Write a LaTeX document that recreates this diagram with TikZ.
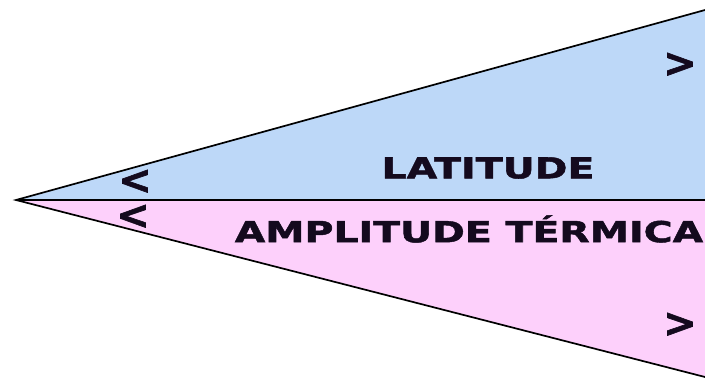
\documentclass[tikz,border=0pt]{standalone}
\usepackage{fontspec}
\setmainfont{DejaVu Sans}
\newfontfamily\heavy{DejaVu Sans}[BoldFeatures={FakeBold=1.5}]
\usetikzlibrary{positioning}
\definecolor{latblue}{HTML}{BDD8F8}
\definecolor{amppink}{HTML}{FDD0FB}
\definecolor{ink}{HTML}{140A1E}

\begin{document}
\begin{tikzpicture}[x=1pt,y=-1pt,
    edge/.style={black,line width=1.7pt},
    lbl/.style={ink,font=\fontsize{29}{29}\heavy\bfseries,inner sep=0pt},
    sgn/.style={ink,font=\fontsize{20}{20}\heavy\bfseries,inner sep=0pt,
      text height=23.5pt,text depth=0pt}]
  \useasboundingbox[fill=white] (0,0) rectangle (705,380);
  % wedge corners
  \coordinate (apex) at (16,200);
  \coordinate (top) at (705,10);
  \coordinate (mid) at (705,200);
  \coordinate (bot) at (705,377);
  % the two halves
  \fill[latblue] (apex) -- (top) -- (mid) -- cycle;
  \fill[amppink] (apex) -- (mid) -- (bot) -- cycle;
  \draw[edge] (top) -- (apex) -- (bot);
  \draw[edge] (apex) -- (mid);
  % labels
  \node[lbl] (lat) at (488,168) {\scalebox{1.36}[1]{LATITUDE}};
  \node[lbl] (amp) at (469,229) {\scalebox{1.36}[1]{AMPLITUDE TÉRMICA}};
  \node[sgn] (latlo) at (135,182) {\scalebox{2}{<}};
  \node[sgn] (amplo) at (133,217) {\scalebox{2}{<}};
  \node[sgn] (lathi) at (680,65) {\scalebox{2}{>}};
  \node[sgn] (amphi) at (680,325) {\scalebox{2}{>}};
\end{tikzpicture}
\end{document}
